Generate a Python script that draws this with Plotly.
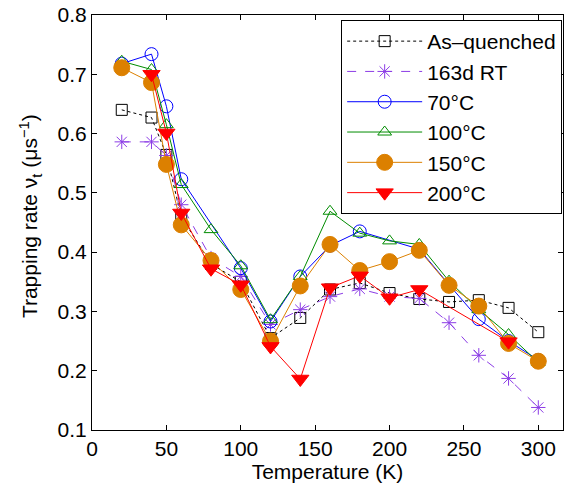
import plotly.graph_objects as go

T = [20, 40, 50, 60, 80, 100, 120, 140, 160, 180, 200, 220, 240, 260, 280, 300]
T_70 = [20, 40, 50, 60, 100, 120, 140, 160, 180, 220, 240, 260, 280, 300]
T_red = [40, 50, 60, 80, 100, 120, 140, 160, 180, 200, 220, 280]

as_quenched = [0.640, 0.627, 0.564, 0.460, 0.380, 0.350, 0.255, 0.289, 0.337, 0.348, 0.331, 0.321, 0.316, 0.319, 0.306, 0.265]
rt_163d = [0.586, 0.586, 0.563, 0.480, 0.390, 0.359, 0.278, 0.303, 0.325, 0.338, 0.325, 0.322, 0.281, 0.226, 0.187, 0.138]
c70 = [0.718, 0.734, 0.646, 0.523, 0.373, 0.283, 0.359, 0.411, 0.435, 0.405, 0.345, 0.287, 0.250, 0.218]
c100 = [0.722, 0.708, 0.615, 0.514, 0.438, 0.377, 0.286, 0.359, 0.469, 0.432, 0.419, 0.413, 0.351, 0.303, 0.261, 0.214]
c150 = [0.711, 0.686, 0.548, 0.446, 0.386, 0.337, 0.250, 0.343, 0.413, 0.369, 0.384, 0.403, 0.344, 0.309, 0.246, 0.216]
c200 = [0.700, 0.601, 0.466, 0.372, 0.345, 0.241, 0.186, 0.340, 0.360, 0.323, 0.337, 0.249]

names = ["As\u2013quenched", "163d RT", "70\u00b0C", "100\u00b0C", "150\u00b0C", "200\u00b0C"]
x_ticks = [0, 50, 100, 150, 200, 250, 300]
y_ticks = [0.1, 0.2, 0.3, 0.4, 0.5, 0.6, 0.7, 0.8]

FONT = "Liberation Sans, Arial, Helvetica, sans-serif"

fig = go.Figure()

series = [
    (T, as_quenched, names[0], "black", "dot", "square-open", 11),
    (T, rt_163d, names[1], "#8C3CE6", "dash", "asterisk-open", 12),
    (T_70, c70, names[2], "#0000FF", "solid", "circle-open", 13),
    (T, c100, names[3], "#008C00", "solid", "triangle-up-open", 12),
    (T, c150, names[4], "#DC8000", "solid", "circle", 16),
    (T_red, c200, names[5], "#FF0000", "solid", "triangle-down", 15),
]

for i, (x, y, nm, col, dash, sym, sz) in enumerate(series):
    fig.add_trace(go.Scatter(
        x=x, y=y, name=nm, mode="lines+markers",
        line=dict(color=col, width=1, dash=dash),
        marker=dict(symbol=sym, size=sz, color=col, line=dict(color=col, width=1)),
        legendgroup=f"g{i}",
    ))

axis_common = dict(
    showline=True, linecolor="black", linewidth=1, mirror="ticks",
    ticks="inside", ticklen=5, tickcolor="black", tickwidth=1,
    showgrid=False, zeroline=False,
    tickfont=dict(family=FONT, size=21, color="black"),
)

fig.update_xaxes(range=[0, 316.6], tickvals=x_ticks,
                 title=dict(text="Temperature (K)", standoff=0,
                            font=dict(family=FONT, size=21, color="black")),
                 **axis_common)
fig.update_yaxes(range=[0.1, 0.8], tickvals=y_ticks, tickformat=".1f",
                 **axis_common)

fig.add_annotation(
    text="Trapping rate \u03bd<sub>t</sub> (\u03bcs<sup>\u22121</sup>)",
    xref="paper", yref="paper", x=-0.132, y=0.515,
    xanchor="center", yanchor="middle", textangle=-90, showarrow=False,
    font=dict(family=FONT, size=21, color="black"),
)

fig.update_layout(
    width=565, height=485,
    margin=dict(l=92, r=2, t=15, b=55),
    paper_bgcolor="white", plot_bgcolor="white",
    font=dict(family=FONT, size=21, color="black"),
    legend=dict(
        x=0.529, y=0.988, xanchor="left", yanchor="top",
        bgcolor="white", bordercolor="black", borderwidth=1,
        font=dict(family=FONT, size=21, color="black"),
        tracegroupgap=0, itemwidth=75,
    ),
    showlegend=True,
)

fig.write_html("out.html")
